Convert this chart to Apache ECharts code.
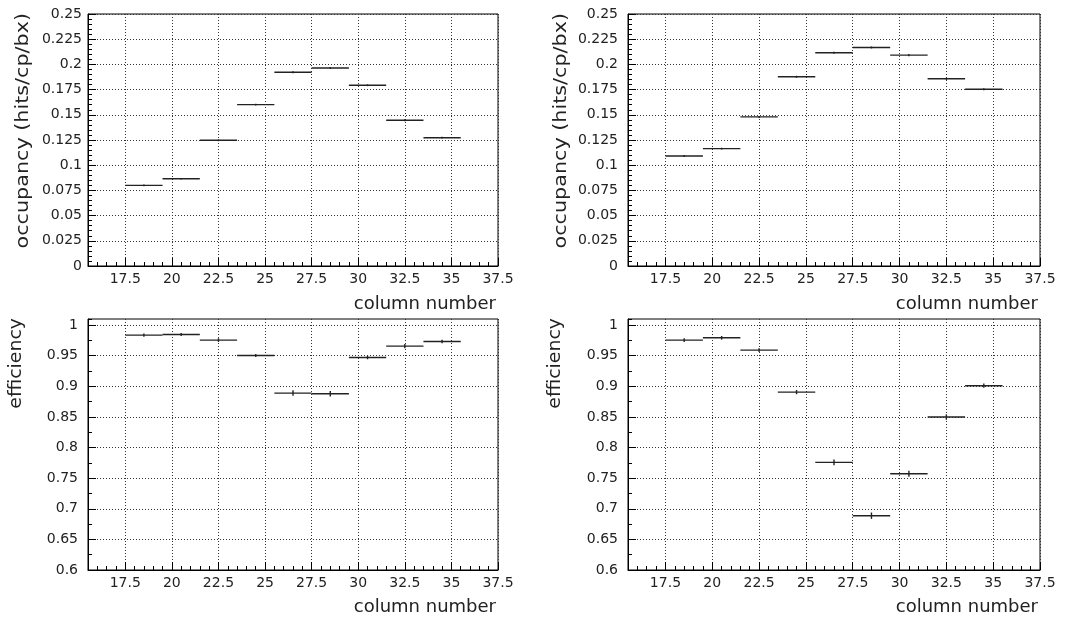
<!DOCTYPE html>
<html>
<head>
<meta charset="utf-8">
<script src="https://cdn.jsdelivr.net/npm/echarts@6/dist/echarts.min.js"></script>
<style>
html,body{margin:0;padding:0;background:#fff;}
#chart{width:1072px;height:618px;}
</style>
</head>
<body>
<div id="chart"></div>
<script>
// ---- data ----
const binCenters = [18.5, 20.5, 22.5, 24.5, 26.5, 28.5, 30.5, 32.5, 34.5];
const binHalfWidth = 1;
const occLeft     = [0.0800, 0.0866, 0.1247, 0.1601, 0.1922, 0.1965, 0.1793, 0.1446, 0.1273];
const occLeftErr  = [0.0008, 0.0008, 0.0009, 0.0009, 0.0010, 0.0010, 0.0009, 0.0009, 0.0009];
const occRight    = [0.1091, 0.1164, 0.1479, 0.1877, 0.2115, 0.2168, 0.2092, 0.1857, 0.1754];
const occRightErr = [0.0009, 0.0009, 0.0010, 0.0010, 0.0010, 0.0010, 0.0010, 0.0010, 0.0010];
const effLeft     = [0.9837, 0.9848, 0.9755, 0.9505, 0.8890, 0.8879, 0.9472, 0.9657, 0.9733];
const effLeftErr  = [0.0025, 0.0025, 0.0030, 0.0025, 0.0045, 0.0045, 0.0030, 0.0035, 0.0030];
const effRight    = [0.9755, 0.9793, 0.9592, 0.8906, 0.7758, 0.6887, 0.7573, 0.8498, 0.9010];
const effRightErr = [0.0030, 0.0030, 0.0030, 0.0035, 0.0046, 0.0052, 0.0050, 0.0044, 0.0035];

const xTicks = [17.5, 20, 22.5, 25, 27.5, 30, 32.5, 35, 37.5];
const xMin = 15.5, xMax = 37.5, xMinorStep = 0.5;
const occTicks = [0, 0.025, 0.05, 0.075, 0.1, 0.125, 0.15, 0.175, 0.2, 0.225, 0.25];
const occMin = 0, occMax = 0.25, occMinorStep = 0.005;
const effTicks = [0.6, 0.65, 0.7, 0.75, 0.8, 0.85, 0.9, 0.95, 1];
const effMin = 0.6, effMax = 1.01, effMinorStep = 0.025;

const xTitle = 'column number';
const occTitle = 'occupancy (hits/cp/bx)';
const effTitle = 'efficiency';

// ---- layout ----
const panels = [
  {grid:{left:88, top:14, width:410, height:252}, ticks:occTicks, min:occMin, max:occMax, minor:occMinorStep, xs:binCenters, ys:occLeft, es:occLeftErr, labelMargin:6},
  {grid:{left:628, top:14, width:412, height:252}, ticks:occTicks, min:occMin, max:occMax, minor:occMinorStep, xs:binCenters, ys:occRight, es:occRightErr, labelMargin:10},
  {grid:{left:88, top:319, width:410, height:251}, ticks:effTicks, min:effMin, max:effMax, minor:effMinorStep, xs:binCenters, ys:effLeft, es:effLeftErr, labelMargin:10},
  {grid:{left:628, top:319, width:412, height:251}, ticks:effTicks, min:effMin, max:effMax, minor:effMinorStep, xs:binCenters, ys:effRight, es:effRightErr, labelMargin:10}
];

const FONT = 'DejaVu Sans';
const TXT = '#222';
const grids = [], xAxes = [], yAxes = [], series = [];

panels.forEach((p, i) => {
  grids.push(Object.assign({show:true, borderColor:'#000', borderWidth:1, backgroundColor:'transparent'}, p.grid));
  xAxes.push({
    type:'value', gridIndex:i, min:xMin, max:xMax, position:'bottom',
    axisLine:{show:true, onZero:false, lineStyle:{color:'#000', width:1}},
    axisTick:{show:true, inside:true, length:8, customValues:xTicks, lineStyle:{color:'#000', width:1}},
    axisLabel:{show:true, customValues:xTicks, margin:6, color:TXT, fontFamily:FONT, fontSize:14,
      showMinLabel:true, showMaxLabel:true},
    splitLine:{show:true, lineStyle:{color:'#333', width:1, type:[1,2]}}
  });
  xAxes.push({
    type:'value', gridIndex:i, min:xMin, max:xMax, interval:xMinorStep, position:'bottom',
    axisLine:{show:false, onZero:false},
    axisTick:{show:true, inside:true, length:4, lineStyle:{color:'#000', width:1}},
    axisLabel:{show:false}, splitLine:{show:false}
  });
  yAxes.push({
    type:'value', gridIndex:i, min:p.min, max:p.max, position:'left',
    axisLine:{show:true, onZero:false, lineStyle:{color:'#000', width:1}},
    axisTick:{show:true, inside:true, length:8, customValues:p.ticks, lineStyle:{color:'#000', width:1}},
    axisLabel:{show:true, customValues:p.ticks, margin:p.labelMargin, color:TXT, fontFamily:FONT, fontSize:14},
    splitLine:{show:true, lineStyle:{color:'#333', width:1, type:[1,2]}}
  });
  yAxes.push({
    type:'value', gridIndex:i, min:p.min, max:p.max, interval:p.minor, position:'left',
    axisLine:{show:false, onZero:false},
    axisTick:{show:true, inside:true, length:4, lineStyle:{color:'#000', width:1}},
    axisLabel:{show:false}, splitLine:{show:false}
  });
  const data = p.xs.map((x, k) => [x, p.ys[k], p.es[k]]);
  series.push({
    type:'custom', xAxisIndex:2*i, yAxisIndex:2*i, data:data, silent:true,
    renderItem:function(params, api){
      const x = api.value(0), y = api.value(1), e = api.value(2);
      const a = api.coord([x - binHalfWidth, y]);
      const b = api.coord([x + binHalfWidth, y]);
      const t = api.coord([x, y + e]);
      const bt = api.coord([x, y - e]);
      const st = {stroke:'#222', lineWidth:1.4};
      return {type:'group', children:[
        {type:'line', shape:{x1:a[0], y1:a[1], x2:b[0], y2:b[1]}, style:st},
        {type:'line', shape:{x1:t[0], y1:t[1], x2:bt[0], y2:bt[1]}, style:st}
      ]};
    }
  });
});

function tx(text, x, y, align, rot, sx){
  return {type:'text', x:x, y:y, rotation:rot||0, scaleX:sx||1,
    style:{text:text, fill:TXT, font:'18px "' + FONT + '"', textAlign:align, textVerticalAlign:'middle'}};
}
const graphics = [
  tx(xTitle, 496, 304, 'right'),
  tx(xTitle, 1038, 304, 'right'),
  tx(xTitle, 496, 607, 'right'),
  tx(xTitle, 1038, 607, 'right'),
  tx(occTitle, 23, 13, 'right', Math.PI/2, 1.15),
  tx(occTitle, 561, 13, 'right', Math.PI/2, 1.15),
  tx(effTitle, 16, 318, 'right', Math.PI/2, 1.05),
  tx(effTitle, 555, 318, 'right', Math.PI/2, 1.05)
];

const chart = echarts.init(document.getElementById('chart'), null, {renderer:'canvas'});
chart.setOption({
  animation:false,
  backgroundColor:'#fff',
  grid:grids, xAxis:xAxes, yAxis:yAxes, series:series,
  graphic:graphics
});
</script>
</body>
</html>
